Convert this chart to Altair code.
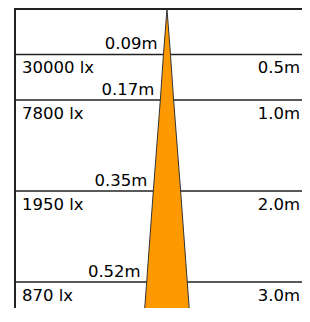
import altair as alt
import pandas as pd

# Data
distances = [0.5, 1.0, 2.0, 3.0]          # m
lux = [30000, 7800, 1950, 870]             # illuminance at each distance
diameters = [0.09, 0.17, 0.35, 0.52]       # beam diameter at each distance (m)
cone_dist = [0.0, 0.5, 1.0, 2.0, 3.0, 3.4]
cone_diam = [0.0, 0.09, 0.17, 0.35, 0.52, 0.59]

rows = pd.DataFrame({"dist": distances, "lux": lux, "diam": diameters})
rows["lux_label"] = [f"{v} lx" for v in lux]
rows["dist_label"] = [f"{v:.1f}m" for v in distances]
rows["diam_label"] = [f"{v:.2f}m" for v in diameters]
rows["left"] = -rows["diam"] / 2

cone = pd.DataFrame({"dist": cone_dist, "diam": cone_diam})
cone["left"] = -cone["diam"] / 2
cone["right"] = cone["diam"] / 2

W, H = 294, 300
FONT = "DejaVu Sans"
FS = 16.5
LINE = "#222222"

yscale = alt.Scale(domain=[-0.011, 3.286], reverse=True, nice=False, zero=False)
xscale = alt.Scale(domain=[-2.038, 1.731], nice=False, zero=False)
Y = alt.Y("dist:Q", scale=yscale, axis=None)

row_lines = alt.Chart(rows).mark_rule(color=LINE, strokeWidth=1.6).encode(
    y=Y, x=alt.value(7), x2=alt.value(W)
)

frame_src = pd.DataFrame({"k": [0]})
top_line = alt.Chart(frame_src).mark_rule(color=LINE, strokeWidth=2).encode(
    y=alt.value(1), x=alt.value(6), x2=alt.value(W)
)
left_line = alt.Chart(frame_src).mark_rule(color=LINE, strokeWidth=2).encode(
    x=alt.value(7), y=alt.value(0), y2=alt.value(H)
)

cone_area = alt.Chart(cone).mark_area(
    orient="horizontal", fill="#ff9900", stroke="#333333", strokeWidth=1, clip=True
).encode(
    y=Y,
    x=alt.X("left:Q", scale=xscale, axis=None),
    x2="right:Q",
)

diam_text = alt.Chart(rows).mark_text(
    align="right", baseline="alphabetic", dx=-6, dy=-5, font=FONT, fontSize=FS, color="#000"
).encode(
    y=Y, x=alt.X("left:Q", scale=xscale, axis=None), text="diam_label:N"
)

lux_text = alt.Chart(rows).mark_text(
    align="left", baseline="alphabetic", dy=19, font=FONT, fontSize=FS, color="#000"
).encode(y=Y, x=alt.value(14), text="lux_label:N")

dist_text = alt.Chart(rows).mark_text(
    align="right", baseline="alphabetic", dy=19, font=FONT, fontSize=FS, color="#000"
).encode(y=Y, x=alt.value(292), text="dist_label:N")

chart = alt.layer(
    row_lines, top_line, left_line, cone_area, diam_text, lux_text, dist_text
).properties(
    width=W, height=H, padding=0, autosize="none", background="white"
).configure_view(stroke=None)

chart.save("out.html", embed_options={"renderer": "svg", "actions": False})
